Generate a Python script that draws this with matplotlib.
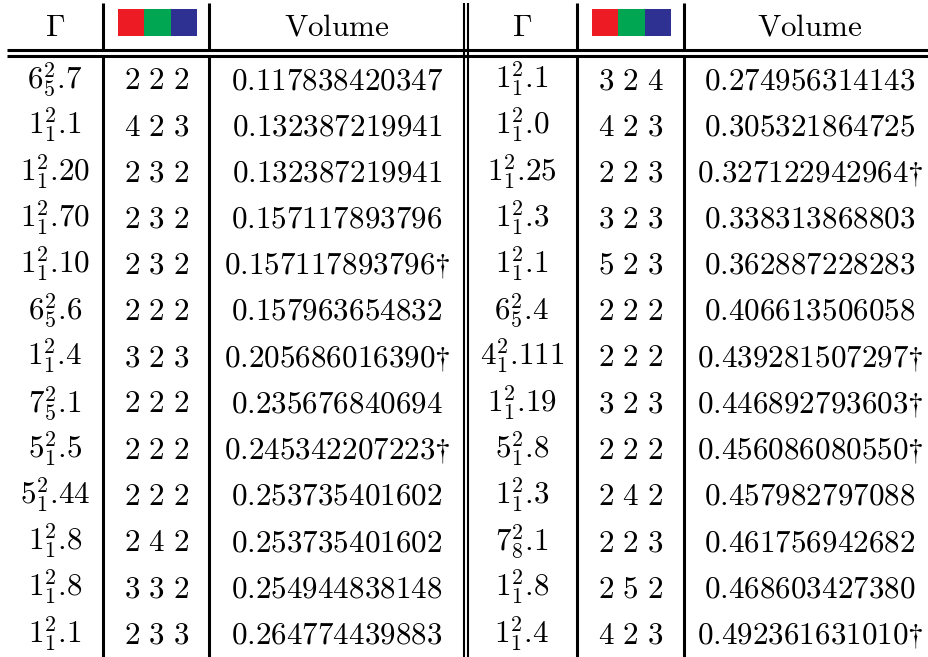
import matplotlib
matplotlib.use('Agg')
from matplotlib import pyplot as plt
from matplotlib.patches import Rectangle

plt.rcParams['mathtext.fontset'] = 'cm'

# Left half of the table
gamma_left = ['6^2_5.7', '1^2_1.1', '1^2_1.20', '1^2_1.70', '1^2_1.10', '6^2_5.6', '1^2_1.4',
              '7^2_5.1', '5^2_1.5', '5^2_1.44', '1^2_1.8', '1^2_1.8', '1^2_1.1']
rgb_left = ['2 2 2', '4 2 3', '2 3 2', '2 3 2', '2 3 2', '2 2 2', '3 2 3',
            '2 2 2', '2 2 2', '2 2 2', '2 4 2', '3 3 2', '2 3 3']
vol_left = [0.117838420347, 0.132387219941, 0.132387219941, 0.157117893796, 0.157117893796,
            0.157963654832, 0.205686016390, 0.235676840694, 0.245342207223, 0.253735401602,
            0.253735401602, 0.254944838148, 0.264774439883]
dag_left = [0, 0, 0, 0, 1, 0, 1, 0, 1, 0, 0, 0, 0]

# Right half of the table
gamma_right = ['1^2_1.1', '1^2_1.0', '1^2_1.25', '1^2_1.3', '1^2_1.1', '6^2_5.4', '4^2_1.111',
               '1^2_1.19', '5^2_1.8', '1^2_1.3', '7^2_8.1', '1^2_1.8', '1^2_1.4']
rgb_right = ['3 2 4', '4 2 3', '2 2 3', '3 2 3', '5 2 3', '2 2 2', '2 2 2',
             '3 2 3', '2 2 2', '2 4 2', '2 2 3', '2 5 2', '4 2 3']
vol_right = [0.274956314143, 0.305321864725, 0.327122942964, 0.338313868803, 0.362887228283,
             0.406613506058, 0.439281507297, 0.446892793603, 0.456086080550, 0.457982797088,
             0.461756942682, 0.468603427380, 0.492361631010]
dag_right = [0, 0, 1, 0, 0, 0, 1, 1, 1, 0, 0, 0, 1]

header_colors = ['#ED1C24', '#00A651', '#2E3192']

W, H = 929, 657
fig = plt.figure(figsize=(W / 100, H / 100), dpi=100)
ax = fig.add_axes([0, 0, 1, 1])
ax.set_xlim(0, W)
ax.set_ylim(H, 0)
ax.axis('off')

fs = 22.4
row0 = 89
step = 46.2
head_base = 36


def draw_half(x_cols, box_x, gammas, rgbs, vols, dags):
    ax.text(x_cols[0], head_base, r'$\Gamma$', ha='center', va='baseline', fontsize=fs)
    ax.text(x_cols[2], head_base, r'$\mathrm{Volume}$', ha='center', va='baseline', fontsize=fs)
    bw = 26.3
    for k, c in enumerate(header_colors):
        ax.add_patch(Rectangle((box_x + k * bw, 9), bw, 27, facecolor=c, edgecolor='none'))
    for i in range(len(gammas)):
        y = row0 + i * step
        ax.text(x_cols[0], y, '$' + gammas[i] + '$', ha='center', va='baseline', fontsize=fs)
        ax.text(x_cols[1], y, '$' + rgbs[i].replace(' ', r'\ ') + '$',
                ha='center', va='baseline', fontsize=fs)
        s = '%.12f' % vols[i]
        if dags[i]:
            s += r'{\dagger}'
        ax.text(x_cols[2], y, '$' + s + '$', ha='center', va='baseline', fontsize=fs)


draw_half([55, 157, 337], 118, gamma_left, rgb_left, vol_left, dag_left)
draw_half([522, 631, 810], 592, gamma_right, rgb_right, vol_right, dag_right)

lw = 2.2
# horizontal double rule under the header
for yy in [50, 55.7]:
    ax.plot([7, W], [yy, yy], color='black', lw=lw, solid_capstyle='butt')

# single vertical rules (broken at the double rule)
for xx in [103.5, 209.5, 577.5, 684]:
    ax.plot([xx, xx], [3, 50], color='black', lw=lw, solid_capstyle='butt')
    ax.plot([xx, xx], [55.7, H], color='black', lw=lw, solid_capstyle='butt')

# double vertical rule between the two halves
for xx in [463.7, 467.7]:
    ax.plot([xx, xx], [3, H], color='black', lw=1.5, solid_capstyle='butt')

fig.savefig('out.png', dpi=100)
